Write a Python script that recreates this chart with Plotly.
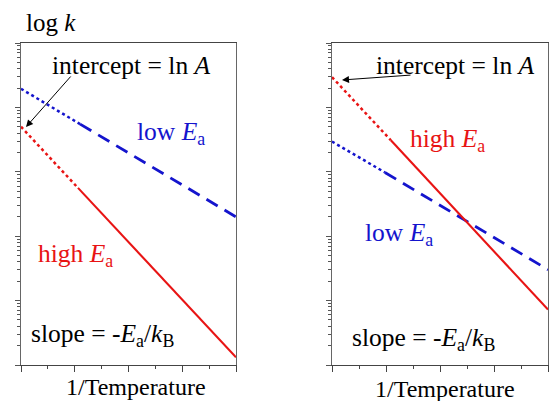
import plotly.graph_objects as go

# Data (1/T in arbitrary units, log10 k)
left_high_x = [0, 1.06, 4]
left_high_logk = [3.70, 2.75, 0.12]
left_low_x = [0, 1.10, 4]
left_low_logk = [4.29, 3.74, 2.30]
right_high_x = [0, 1.09, 4]
right_high_logk = [4.47, 3.49, 0.86]
right_low_x = [0, 0.98, 4]
right_low_logk = [3.47, 2.99, 1.48]

x_major = [0, 1, 2, 3, 4]
x_minor = [0.5, 1.5, 2.5, 3.5]
decades = [0, 1, 2, 3, 4, 5]

RED = "rgb(232,20,20)"
BLUE = "rgb(20,20,205)"
FONT = "Liberation Serif, Times New Roman, serif"
W, H = 549, 401

fig = go.Figure()

def add_series(xs, lk, color, main_dash, width, xa, ya):
    ys = [10 ** v for v in lk]
    fig.add_trace(go.Scatter(x=xs[:2], y=ys[:2], mode="lines", xaxis=xa, yaxis=ya,
                             line=dict(color=color, width=2.5, dash="dot"), showlegend=False))
    fig.add_trace(go.Scatter(x=xs[1:], y=ys[1:], mode="lines", xaxis=xa, yaxis=ya,
                             line=dict(color=color, width=width, dash=main_dash), showlegend=False))

add_series(left_low_x, left_low_logk, BLUE, "13px,8px", 2.8, "x", "y")
add_series(left_high_x, left_high_logk, RED, "solid", 2.1, "x", "y")
add_series(right_low_x, right_low_logk, BLUE, "13px,8px", 2.8, "x2", "y2")
add_series(right_high_x, right_high_logk, RED, "solid", 2.1, "x2", "y2")

minor_y = [m * 10 ** d for d in decades[:-1] for m in range(2, 10)]

def xaxis_cfg(dom):
    return dict(domain=dom, range=[0, 4], showgrid=False, zeroline=False, showline=True,
                linecolor="#444", linewidth=1.2, mirror=True, ticks="outside", ticklen=6,
                tickcolor="#444", tickvals=x_major, showticklabels=False,
                minor=dict(tickvals=x_minor, ticks="outside", ticklen=3, tickcolor="#444"))

def yaxis_cfg(dom, anchor):
    return dict(domain=dom, type="log", range=[0, 5], anchor=anchor, showgrid=False, zeroline=False,
                showline=True, linecolor="#666", linewidth=1.2, mirror=True, ticks="outside",
                ticklen=5, tickcolor="#555", tickvals=[10 ** d for d in decades],
                showticklabels=False,
                minor=dict(tickvals=minor_y, ticks="outside", ticklen=3, tickcolor="#555"))

ydom = [1 - 365 / H, 1 - 43 / H]
fig.update_layout(
    width=W, height=H, margin=dict(l=0, r=0, t=0, b=0),
    plot_bgcolor="white", paper_bgcolor="white",
    font=dict(family=FONT, size=20),
    xaxis=xaxis_cfg([21 / W, 236 / W]),
    yaxis=yaxis_cfg(ydom, "x"),
    xaxis2=dict(xaxis_cfg([332 / W, 548 / W]), anchor="y2"),
    yaxis2=yaxis_cfg(ydom, "x2"),
)
fig.layout.xaxis.anchor = "y"

def txt(px, py, text, color="black", size=25.5):
    fig.add_annotation(x=px / W, y=1 - py / H, xref="paper", yref="paper", text=text,
                       showarrow=False, font=dict(family=FONT, size=size, color=color),
                       xanchor="center", yanchor="middle")

def arrow(hx, hy, tx, ty):
    fig.add_annotation(x=hx / W, y=1 - hy / H, xref="paper", yref="paper", text="",
                       showarrow=True, ax=tx - hx, ay=ty - hy, arrowhead=2, arrowsize=1.4,
                       arrowwidth=1, arrowcolor="black", font=dict(family=FONT, size=12))

EA = "<i>E</i><sub>a</sub>"
slope = "slope = -<i>E</i><sub>a</sub>/<i>k</i><sub>B</sub>"
intercept = "intercept = ln <i>A</i>"

# left panel
txt(51, 23, "log <i>k</i>", size=25)
txt(131, 65, intercept)
arrow(26, 127, 72, 75)
txt(171, 133, "low " + EA, BLUE)
txt(75, 255, "high " + EA, RED)
txt(102, 335, slope)
txt(136, 387, "1/Temperature", size=24)

# right panel
txt(455, 65, intercept)
arrow(342, 80, 412, 75)
txt(447, 140, "high " + EA, RED)
txt(399, 234, "low " + EA, BLUE)
txt(423, 339, slope)
txt(445, 389, "1/Temperature", size=24)

fig.write_html("out.html")
